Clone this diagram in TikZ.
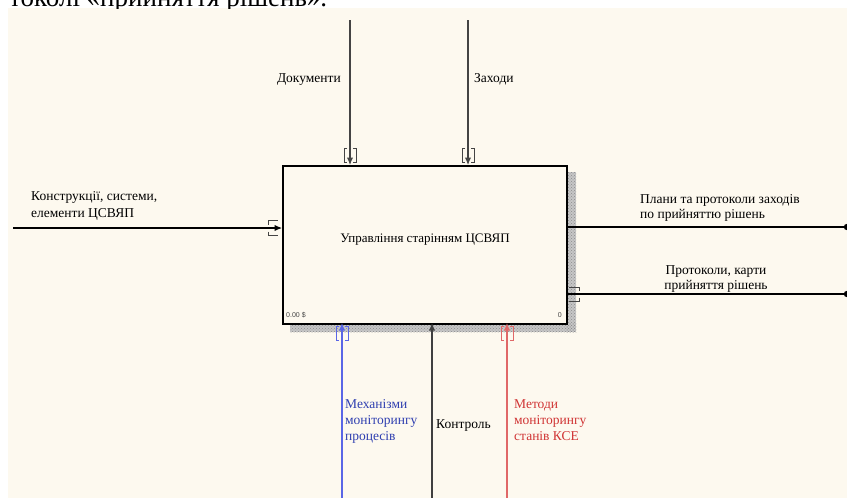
\documentclass[tikz,border=0pt]{standalone}
\usepackage{fontspec}
\setmainfont{Liberation Serif}
\newfontfamily\smallsans{Liberation Sans}
\usetikzlibrary{arrows.meta,patterns}
\definecolor{cream}{HTML}{FDF9EF}
\definecolor{lnblue}{HTML}{5A66E6}
\definecolor{txblue}{HTML}{2F3FB0}
\definecolor{lnred}{HTML}{E06868}
\definecolor{txred}{HTML}{D03434}
\definecolor{lngray}{HTML}{444444}
\tikzset{
  lbl/.style={inner sep=0pt, font=\fontsize{13.5}{16}\selectfont, text=black},
  arr/.style={line width=1.1pt, draw=lngray, -{Latex[length=7.5pt,width=6.5pt]}},
  plainln/.style={line width=1.1pt, draw=lngray},
  brk/.style={line width=1pt, draw=lngray},
}
\begin{document}
\begin{tikzpicture}[x=1pt,y=-1pt]
\useasboundingbox (0,0) rectangle (847,498);
\fill[white] (0,0) rectangle (847,498);
\fill[cream] (8,8) rectangle (847,498);
% clipped caption line from above
\begin{scope}
\clip (0,0) rectangle (847,8);
\node[inner sep=0pt, anchor=base west, font=\fontsize{27}{30}\selectfont] (cap) at (9,6) {токолі «прийняття рішень».};
\end{scope}
% shadow
\fill[gray!45] (566,172) rectangle (576,332);
\fill[gray!45] (290,323) rectangle (576,332);
\fill[pattern=crosshatch dots, pattern color=gray!90] (566,172) rectangle (576,332);
\fill[pattern=crosshatch dots, pattern color=gray!90] (290,323) rectangle (576,332);
% box
\node[draw=black, line width=1.5pt, fill=cream, minimum width=284pt, minimum height=158pt, inner sep=0pt, anchor=north west] (box) at (282,165) {};
\node[inner sep=0pt, font=\fontsize{13}{15}\selectfont] (boxt) at (425,240) {Управління старінням ЦСВЯП};
\node[inner sep=0pt, anchor=base west, font=\smallsans\fontsize{7}{8}\selectfont, text=lngray] (cost) at (286,317) {0.00 \$};
\node[inner sep=0pt, anchor=base east, font=\smallsans\fontsize{7}{8}\selectfont, text=lngray] (num) at (562,317) {0};
% coordinates
\coordinate (t1s) at (350,20); \coordinate (t1e) at (350,165);
\coordinate (t2s) at (468,20); \coordinate (t2e) at (468,165);
\coordinate (is) at (13,228); \coordinate (ie) at (282,228);
\coordinate (o1s) at (566,227); \coordinate (o1e) at (847,227);
\coordinate (o2s) at (566,294); \coordinate (o2e) at (847,294);
\coordinate (b1s) at (342,498); \coordinate (b1e) at (342,323);
\coordinate (b2s) at (432,498); \coordinate (b2e) at (432,323);
\coordinate (b3s) at (507,498); \coordinate (b3e) at (507,323);
% arrows
\draw[arr] (t1s) -- (t1e);
\draw[arr] (t2s) -- (t2e);
\draw[arr, draw=black] (is) -- (ie);
\draw[plainln, draw=black] (o1s) -- (o1e);
\fill[black] (o1e) circle (3.2pt);
\draw[plainln, draw=black] (o2s) -- (o2e);
\fill[black] (o2e) circle (3.2pt);
\draw[arr, draw=lnblue, line width=1.2pt] (b1s) -- (b1e);
\draw[arr, draw=black!75] (b2s) -- (b2e);
\draw[arr, draw=lnred, line width=1.2pt] (b3s) -- (b3e);
% tunnel brackets
\foreach \x in {350,468}{
  \draw[brk] (\x-3,148) -- (\x-6,148) -- (\x-6,162) -- (\x-3,162);
  \draw[brk] (\x+3,148) -- (\x+6,148) -- (\x+6,162) -- (\x+3,162);
}
\draw[brk] (268,224.5) -- (268,220.5) -- (278,220.5);
\draw[brk] (268,231.5) -- (268,235.5) -- (278,235.5);
\draw[brk] (579,290.5) -- (579,287) -- (569,287);
\draw[brk] (579,297.5) -- (579,301) -- (569,301);
\draw[brk, draw=lnblue] (339,326) -- (336,326) -- (336,340) -- (339,340);
\draw[brk, draw=lnblue] (345,326) -- (348,326) -- (348,340) -- (345,340);
\draw[brk, draw=lnred] (504,326) -- (501,326) -- (501,340) -- (504,340);
\draw[brk, draw=lnred] (510,326) -- (513,326) -- (513,340) -- (510,340);
% labels
\node[lbl, anchor=base east] (ldoc) at (341,82) {Документи};
\node[lbl, anchor=base west] (lzah) at (474,82) {Заходи};
\node[lbl, anchor=base west] (lin1) at (31,200) {Конструкції, системи,};
\node[lbl, anchor=base west] (lin2) at (31,217) {елементи ЦСВЯП};
\node[lbl, anchor=base west] (lo11) at (640,203) {Плани та протоколи заходів};
\node[lbl, anchor=base west] (lo12) at (640,218) {по прийняттю рішень};
\node[lbl, anchor=base] (lo21) at (716,274) {Протоколи, карти};
\node[lbl, anchor=base] (lo22) at (716,289) {прийняття рішень};
\node[lbl, anchor=base west, text=txblue] (lm1) at (345,408) {Механізми};
\node[lbl, anchor=base west, text=txblue] (lm2) at (345,424) {моніторингу};
\node[lbl, anchor=base west, text=txblue] (lm3) at (345,440) {процесів};
\node[lbl, anchor=base west] (lk) at (436,428) {Контроль};
\node[lbl, anchor=base west, text=txred] (lr1) at (514,408) {Методи};
\node[lbl, anchor=base west, text=txred] (lr2) at (514,424) {моніторингу};
\node[lbl, anchor=base west, text=txred] (lr3) at (514,440) {станів КСЕ};
\end{tikzpicture}
\end{document}
